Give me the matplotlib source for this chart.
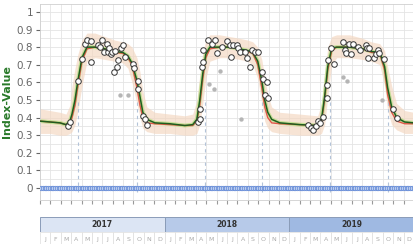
import numpy as np
import matplotlib
matplotlib.use("Agg")
import matplotlib.pyplot as plt
from matplotlib.patches import Rectangle

# Data (x in months since Jan 2017)
curve_month = [0, 0.96, 1.92, 2.5, 2.88, 3.08, 3.37, 3.65, 4.04, 4.52,
               5.29, 6.25, 7.21, 7.98, 8.46, 8.85, 9.33, 9.62, 9.9, 10.29,
               11.06, 12.5, 13.94, 14.7, 15.1, 15.38, 15.67, 15.96, 16.35, 17.3,
               18.27, 19.23, 20.0, 20.48, 20.96, 21.35, 21.63, 21.92, 22.3, 23.08,
               25.0, 26.73, 27.1, 27.4, 27.7, 28.08, 28.56, 29.8, 31.06, 31.9,
               32.7, 33.17, 33.46, 33.85, 34.33, 35.1, 35.96]
fit_green = [0.38, 0.375, 0.37, 0.36, 0.38, 0.42, 0.50, 0.61, 0.74, 0.80,
             0.80, 0.79, 0.775, 0.77, 0.75, 0.71, 0.61, 0.52, 0.43, 0.39,
             0.37, 0.365, 0.355, 0.36, 0.39, 0.50, 0.65, 0.76, 0.80, 0.80,
             0.80, 0.79, 0.78, 0.77, 0.72, 0.61, 0.50, 0.43, 0.39, 0.37,
             0.36, 0.355, 0.39, 0.52, 0.69, 0.795, 0.80, 0.80, 0.79, 0.775,
             0.77, 0.69, 0.57, 0.46, 0.40, 0.375, 0.37]
fit_red = [0.38, 0.375, 0.37, 0.36, 0.37, 0.40, 0.47, 0.58, 0.72, 0.79,
           0.80, 0.79, 0.77, 0.765, 0.74, 0.70, 0.57, 0.47, 0.40, 0.37,
           0.365, 0.36, 0.355, 0.355, 0.38, 0.47, 0.62, 0.74, 0.79, 0.80,
           0.80, 0.79, 0.775, 0.765, 0.70, 0.57, 0.46, 0.40, 0.37, 0.365,
           0.36, 0.355, 0.38, 0.50, 0.67, 0.78, 0.80, 0.80, 0.79, 0.77,
           0.765, 0.67, 0.53, 0.43, 0.38, 0.365, 0.365]
band_hi = [0.45, 0.44, 0.43, 0.42, 0.47, 0.58, 0.68, 0.76, 0.84, 0.88,
           0.88, 0.86, 0.84, 0.83, 0.82, 0.80, 0.74, 0.66, 0.55, 0.46,
           0.43, 0.42, 0.41, 0.42, 0.50, 0.64, 0.77, 0.84, 0.87, 0.87,
           0.86, 0.85, 0.84, 0.83, 0.80, 0.73, 0.63, 0.53, 0.46, 0.43,
           0.42, 0.41, 0.48, 0.66, 0.80, 0.86, 0.87, 0.87, 0.85, 0.83,
           0.82, 0.78, 0.69, 0.58, 0.48, 0.44, 0.43]
band_lo = [0.31, 0.31, 0.30, 0.30, 0.31, 0.32, 0.36, 0.44, 0.58, 0.72,
           0.74, 0.73, 0.72, 0.71, 0.68, 0.60, 0.48, 0.40, 0.34, 0.32,
           0.31, 0.31, 0.30, 0.30, 0.31, 0.36, 0.48, 0.62, 0.72, 0.74,
           0.74, 0.73, 0.72, 0.70, 0.62, 0.48, 0.38, 0.34, 0.32, 0.31,
           0.30, 0.30, 0.31, 0.36, 0.52, 0.70, 0.74, 0.74, 0.73, 0.72,
           0.70, 0.58, 0.44, 0.36, 0.33, 0.31, 0.31]

obs_month = [2.69, 2.88, 3.65, 4.04, 4.33, 4.52, 4.90, 4.90, 5.58, 5.77,
             5.96, 6.15, 6.44, 6.54, 6.63, 6.83, 6.92, 7.12, 7.21, 7.40,
             7.50, 7.79, 7.98, 8.17, 8.94, 9.04, 9.42, 9.42, 9.90, 10.10, 10.29,
             15.19, 15.38, 15.38, 15.58, 15.67, 15.67, 16.15, 16.54, 16.83, 17.02,
             17.5, 17.98, 18.27, 18.37, 18.56, 18.94, 19.04, 19.23, 19.71, 19.90,
             20.19, 20.38, 20.67, 20.96, 21.35, 21.44, 21.83, 21.63, 21.92,
             25.77, 26.06, 26.25, 26.54, 26.73, 26.92,
             27.21, 27.6, 27.6, 27.69, 27.98, 28.27, 29.13, 29.33, 29.42, 29.71,
             29.9, 30.1, 30.58, 30.77, 31.35, 31.44, 31.54, 31.63, 32.12, 32.31,
             32.5, 32.6, 33.08, 33.94, 34.33]
obs_value = [0.35, 0.375, 0.61, 0.73, 0.82, 0.84, 0.835, 0.715, 0.81, 0.80,
             0.84, 0.77, 0.82, 0.77, 0.795, 0.76, 0.775, 0.66, 0.78, 0.69,
             0.725, 0.795, 0.81, 0.745, 0.705, 0.68, 0.61, 0.565, 0.41, 0.39, 0.36,
             0.375, 0.39, 0.45, 0.69, 0.715, 0.785, 0.84, 0.82, 0.84, 0.765,
             0.80, 0.835, 0.81, 0.745, 0.81, 0.81, 0.795, 0.775, 0.775, 0.74,
             0.69, 0.785, 0.775, 0.775, 0.66, 0.62, 0.60, 0.53, 0.51,
             0.36, 0.34, 0.33, 0.35, 0.38, 0.37,
             0.405, 0.51, 0.585, 0.725, 0.795, 0.705, 0.83, 0.785, 0.765, 0.82,
             0.76, 0.82, 0.80, 0.785, 0.81, 0.795, 0.74, 0.795, 0.74, 0.76,
             0.785, 0.765, 0.73, 0.45, 0.40]

outlier_month = [7.69, 8.46, 16.25, 16.73, 17.31, 19.33, 29.13, 29.52, 32.88]
outlier_value = [0.53, 0.53, 0.59, 0.56, 0.665, 0.39, 0.63, 0.61, 0.50]

season_marks = [3.65, 9.33, 15.87, 21.35, 27.88, 33.46]
season_top = 0.5

# flagged observations shown at zero, one every ~5 days
zero_month = np.arange(0.1, 36, 0.17)
zero_value = np.zeros_like(zero_month)

years = ["2017", "2018", "2019"]
year_colors = ["#dce5f4", "#b7cae9", "#9fb9e2"]
month_letters = ["J", "F", "M", "A", "M", "J", "J", "A", "S", "O", "N", "D"]

fig = plt.figure(figsize=(4.14, 2.44), dpi=100)
W, H = 414, 244
ax = fig.add_axes([40 / W, 44 / H, 374 / W, 196 / H])

ax.fill_between(curve_month, band_lo, band_hi, color="#f4d6bf", alpha=0.65, lw=0, zorder=1)
ax.plot(curve_month, fit_red, color="#e0584a", lw=1.0, zorder=3)
ax.plot(curve_month, fit_green, color="#b3dd7e", lw=2.8, alpha=0.7, zorder=2)
ax.plot(curve_month, fit_green, color="#1f5e1f", lw=1.1, zorder=4)

ax.vlines(season_marks, -0.02, season_top, colors="#b3c3d8", linestyles=(0, (3, 3)), lw=0.8, zorder=1)

ax.scatter(zero_month, zero_value, s=10, facecolor="#c2d3f2", edgecolor="#6a8fd8", lw=0.6, zorder=5)
ax.scatter(outlier_month, outlier_value, s=10, color="#b5b5b5", lw=0, zorder=5)
ax.scatter(obs_month, obs_value, s=16, facecolor="white", edgecolor="#333333", lw=0.7, zorder=6)

ax.set_xlim(0, 36)
ax.set_ylim(-0.068, 1.045)
ax.set_yticks(np.arange(0, 1.01, 0.1))
ax.set_yticklabels(["0", "0.1", "0.2", "0.3", "0.4", "0.5", "0.6", "0.7", "0.8", "0.9", "1"])
ax.set_yticks(np.arange(0, 1.04, 0.05), minor=True)
ax.set_xticks(np.arange(0, 37, 1))
ax.set_xticklabels([])
ax.grid(True, which="both", color="#e4e4e4", lw=0.6)
ax.set_axisbelow(True)
ax.tick_params(axis="y", which="major", labelsize=7.5, colors="#666666", length=3, pad=2)
ax.tick_params(axis="y", which="minor", length=0)
ax.tick_params(axis="x", length=3, color="#999999")
for s in ax.spines.values():
    s.set_color("#d0d0d0")
    s.set_linewidth(0.6)
ax.set_ylabel("Index-Value", color="#2a7a2a", fontsize=8, fontweight="bold", labelpad=3)

# year bar
ay = fig.add_axes([40 / W, 12 / H, 374 / W, 15 / H])
ay.set_xlim(0, 36)
ay.set_ylim(0, 1)
ay.axis("off")
for i, (yr, col) in enumerate(zip(years, year_colors)):
    ay.add_patch(Rectangle((i * 12, 0), 12, 1, facecolor=col, edgecolor="#8a9cb8", lw=0.7))
    ay.text(i * 12 + 6, 0.5, yr, ha="center", va="center", fontsize=5.5,
            fontweight="bold", color="#333333")

# month row
am = fig.add_axes([40 / W, -4 / H, 374 / W, 16 / H])
am.set_xlim(0, 36)
am.set_ylim(0, 1)
am.axis("off")
for i in range(36):
    am.add_patch(Rectangle((i, 0), 1, 1, facecolor="white", edgecolor="#dddddd", lw=0.5))
    am.text(i + 0.5, 0.55, month_letters[i % 12], ha="center", va="center",
            fontsize=4.5, color="#aaaaaa")

fig.savefig("out.png", dpi=100)
